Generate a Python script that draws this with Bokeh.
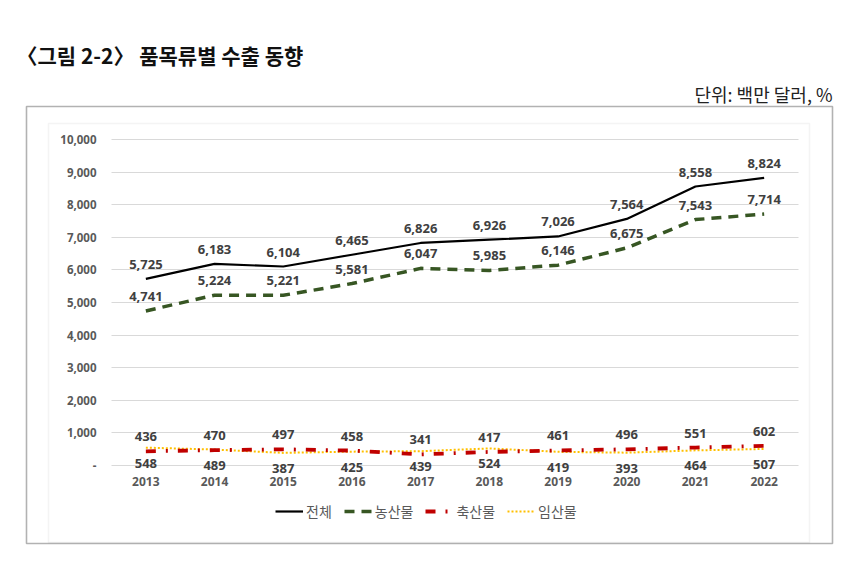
from bokeh.plotting import figure
from bokeh.models import (Range1d, FixedTicker, Legend, LegendItem, Label, BoxAnnotation,
                          ColumnDataSource)
from bokeh.core.properties import value
from bokeh.embed import file_html
from bokeh.resources import INLINE

years = [2013, 2014, 2015, 2016, 2017, 2018, 2019, 2020, 2021, 2022]
year_labels = ["2013", "2014", "2015", "2016", "2017", "2018", "2019", "2020", "2021", "2022"]
total = [5725, 6183, 6104, 6465, 6826, 6926, 7026, 7564, 8558, 8824]
agri = [4741, 5224, 5221, 5581, 6047, 5985, 6146, 6675, 7543, 7714]
livestock = [436, 470, 497, 458, 341, 417, 461, 496, 551, 602]
forest = [548, 489, 387, 425, 439, 524, 419, 393, 464, 507]
series_names = ["전체", "농산물", "축산물", "임산물"]
y_ticks = [0, 1000, 2000, 3000, 4000, 5000, 6000, 7000, 8000, 9000, 10000]
y_tick_labels = ["-", "1,000", "2,000", "3,000", "4,000", "5,000", "6,000",
                 "7,000", "8,000", "9,000", "10,000"]
title_text = "〈그림 2-2〉 품목류별 수출 동향"
unit_text = "단위: 백만 달러, %"

KFONT = "Noto Sans CJK KR"
NFONT = "Noto Sans"

# canvas = frame = whole picture; pixel geometry of the plot area
W, H = 850, 580
PX_LEFT, PX_RIGHT = 111.0, 798.0      # plot area x extent (px)
PX_TOP, PX_ZERO = 139.0, 465.0        # y of 10,000 and of 0 (px)
y_top_val = y_ticks[-1]
ppu_y = (PX_ZERO - PX_TOP) / y_top_val
ncat = len(years)
ppu_x = (PX_RIGHT - PX_LEFT) / ncat
x0 = years[0] - 0.5                   # value at PX_LEFT
x_start = x0 - PX_LEFT / ppu_x
x_end = x0 + (W - PX_LEFT) / ppu_x
y_start = -(H - PX_ZERO) / ppu_y
y_end = PX_ZERO / ppu_y

p = figure(width=W, height=H, x_range=Range1d(x_start, x_end), y_range=Range1d(y_start, y_end),
           output_backend="svg", toolbar_location=None, min_border=0)
p.outline_line_color = None
p.background_fill_color = "white"
p.border_fill_color = "white"

# axes drawn inside the frame at fixed positions
p.yaxis.ticker = FixedTicker(ticks=y_ticks)
p.yaxis.major_label_overrides = {t: l for t, l in zip(y_ticks, y_tick_labels)}
p.xaxis.ticker = FixedTicker(ticks=years)
p.xaxis.major_label_overrides = {t: l for t, l in zip(years, year_labels)}
p.yaxis.fixed_location = x0
p.xaxis.fixed_location = 0
for ax in (p.xaxis[0], p.yaxis[0]):
    ax.axis_line_color = None
    ax.major_tick_line_color = None
    ax.minor_tick_line_color = None
    ax.major_tick_out = 0
    ax.major_tick_in = 0
    ax.major_label_text_font = NFONT
    ax.major_label_text_font_style = "bold"
    ax.major_label_text_color = "#595959"
p.yaxis.major_label_text_font_size = "11.5px"
p.xaxis.major_label_text_font_size = "12px"
p.yaxis.major_label_standoff = 15
p.xaxis.major_label_standoff = 11

p.xgrid.visible = False
g = p.ygrid[0]
g.ticker = p.yaxis[0].ticker
g.grid_line_color = "#d9d9d9"
g.grid_line_width = 1
if "cross_bounds" in g.properties():
    g.cross_bounds = (x0, years[-1] + 0.5)
else:
    g.visible = False
    p.segment(x0=[x0] * len(y_ticks), x1=[years[-1] + 0.5] * len(y_ticks),
              y0=y_ticks, y1=y_ticks, line_color="#d9d9d9", line_width=1)

src = ColumnDataSource(dict(x=years, total=total, agri=agri, livestock=livestock, forest=forest,
                            total_l=[f"{v:,}" for v in total],
                            agri_l=[f"{v:,}" for v in agri],
                            livestock_l=[f"{v:,}" for v in livestock],
                            forest_l=[f"{v:,}" for v in forest]))

r_forest = p.line("x", "forest", source=src, line_color="#FFC000", line_width=2, line_dash="2 2")
r_live = p.line("x", "livestock", source=src, line_color="#C00000", line_width=3.8,
                line_dash="10 10 2 10")
r_agri = p.line("x", "agri", source=src, line_color="#375623", line_width=3.5, line_dash="10 7")
r_total = p.line("x", "total", source=src, line_color="black", line_width=2.2)

lbl = dict(text_font=value(NFONT), text_font_style="bold", text_font_size="13px",
           text_color="#404040", text_align="center", source=src)
p.text("x", "total", text="total_l", y_offset=-10, text_baseline="bottom", **lbl)
p.text("x", "agri", text="agri_l", y_offset=-10, text_baseline="bottom", **lbl)
p.text("x", "livestock", text="livestock_l", y_offset=-10, text_baseline="bottom", **lbl)
p.text("x", "forest", text="forest_l", y_offset=11, text_baseline="top", **lbl)

legend = Legend(items=[LegendItem(label=series_names[0], renderers=[r_total]),
                       LegendItem(label=series_names[1], renderers=[r_agri]),
                       LegendItem(label=series_names[2], renderers=[r_live]),
                       LegendItem(label=series_names[3], renderers=[r_forest])],
                orientation="horizontal", location=(275, H - 521),
                label_text_font=KFONT, label_text_font_size="14px", label_text_color="#595959",
                glyph_width=28, glyph_height=14, label_standoff=3, spacing=12,
                border_line_color=None, background_fill_alpha=0, margin=0, padding=4)
p.add_layout(legend)

# title and unit (screen units: relative to frame, y upward)
p.add_layout(Label(x=16, y=H - 54, x_units="screen", y_units="screen", text=title_text,
                   text_font=KFONT, text_font_size="21px", text_font_style="bold",
                   text_color="#111111", text_baseline="middle", text_align="left"))
p.add_layout(Label(x=832, y=H - 93, x_units="screen", y_units="screen", text=unit_text,
                   text_font=KFONT, text_font_size="18px",
                   text_color="#222222", text_baseline="middle", text_align="right"))

# light grey chart-area border and black outer box
p.add_layout(BoxAnnotation(left=48, right=809, top=H - 123, bottom=H - 542,
                           left_units="screen", right_units="screen",
                           top_units="screen", bottom_units="screen",
                           fill_alpha=0, line_color="#d9d9d9", line_width=1.5))
p.add_layout(BoxAnnotation(left=26, right=832, top=H - 106, bottom=H - 543,
                           left_units="screen", right_units="screen",
                           top_units="screen", bottom_units="screen",
                           fill_alpha=0, line_color="black", line_width=1.6))

open("out.html", "w").write(file_html(p, INLINE))
